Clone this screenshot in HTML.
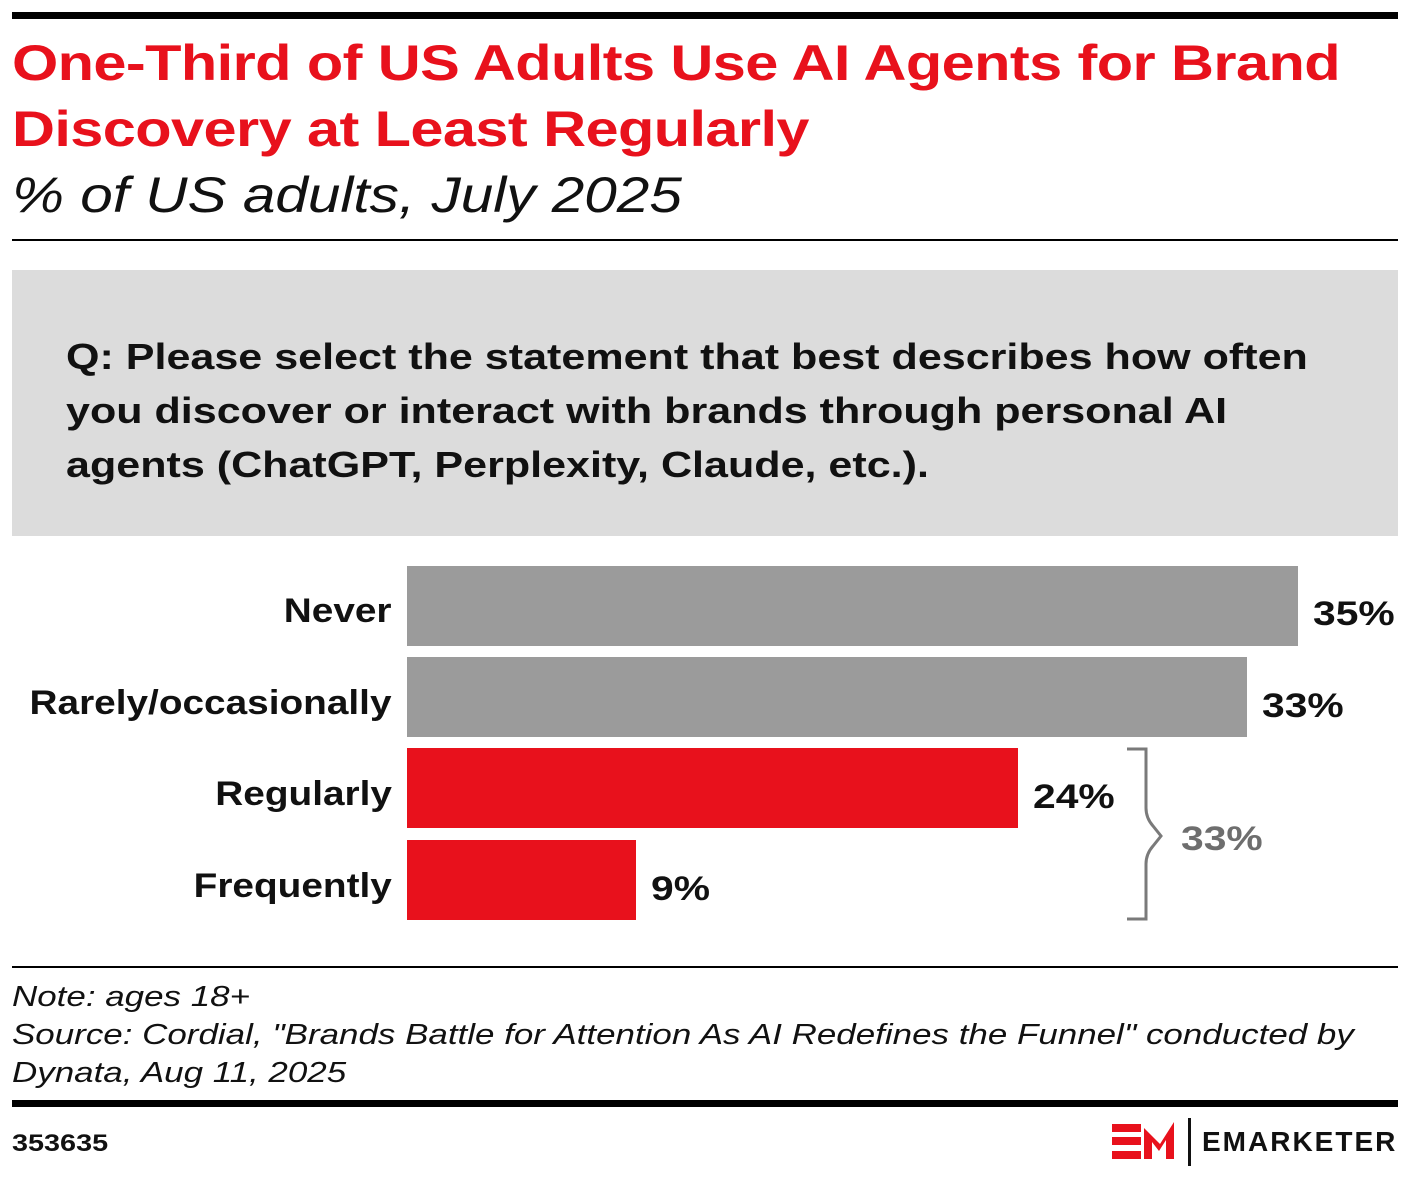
<!DOCTYPE html>
<html><head><meta charset="utf-8"><style>
body{margin:0;width:1410px;height:1177px;background:#fff;position:relative;font-family:"Liberation Sans",sans-serif;overflow:hidden}
.a{position:absolute;white-space:nowrap}
.sx{transform-origin:0 0}
.t{color:#e8111c;font-weight:bold;font-size:50px;line-height:66px;left:12px;top:30px;letter-spacing:-0.5px;transform:scaleX(1.19)}
.s{font-style:italic;font-size:50px;left:12px;top:166px;color:#111;transform:scaleX(1.17)}
.lab{position:absolute;right:1018px;font-weight:bold;font-size:34px;color:#111;text-align:right;transform-origin:100% 0;transform:scaleX(1.14);white-space:nowrap}
.bar{position:absolute;left:407px;height:80px}
.v{position:absolute;font-weight:bold;font-size:34px;color:#111;transform-origin:0 0;transform:scaleX(1.2)}
.n{font-style:italic;font-size:29px;color:#111;left:12px;line-height:38px;transform:scaleX(1.205)}
</style></head><body>
<div class="a" style="left:12px;top:12px;width:1386px;height:7px;background:#000"></div>
<div class="a sx t">One-Third of US Adults Use AI Agents for Brand<br>Discovery at Least Regularly</div>
<div class="a sx s">% of US adults, July 2025</div>
<div class="a" style="left:12px;top:239px;width:1386px;height:2px;background:#000"></div>
<div class="a" style="left:12px;top:270px;width:1386px;height:266px;background:#dcdcdc"></div>
<div class="a sx" style="left:66px;top:330px;font-weight:bold;font-size:36px;line-height:54px;color:#111;transform:scaleX(1.196)">Q: Please select the statement that best describes how often<br>you discover or interact with brands through personal AI<br>agents (ChatGPT, Perplexity, Claude, etc.).</div>
<div class="lab" style="top:592px">Never</div>
<div class="lab" style="top:684px">Rarely/occasionally</div>
<div class="lab" style="top:775px">Regularly</div>
<div class="lab" style="top:867px">Frequently</div>
<div class="bar" style="top:566px;width:891px;background:#9b9b9b"></div>
<div class="bar" style="top:657px;width:840px;background:#9b9b9b"></div>
<div class="bar" style="top:748px;width:611px;background:#e8111c"></div>
<div class="bar" style="top:840px;width:229px;background:#e8111c"></div>
<div class="v" style="left:1313px;top:595px">35%</div>
<div class="v" style="left:1262px;top:687px">33%</div>
<div class="v" style="left:1033px;top:778px">24%</div>
<div class="v" style="left:651px;top:870px">9%</div>
<svg class="a" style="left:0;top:0" width="1410" height="1177"><path d="M1127 749H1146V808Q1146 818 1153 826L1161 836L1153 846Q1146 854 1146 864V919H1127" fill="none" stroke="#7a7a7a" stroke-width="3"/></svg>
<div class="v" style="left:1181px;top:820px;color:#6e6e6e">33%</div>
<div class="a" style="left:12px;top:966px;width:1386px;height:2px;background:#000"></div>
<div class="a sx n" style="top:978px">Note: ages 18+<br>Source: Cordial, "Brands Battle for Attention As AI Redefines the Funnel" conducted by<br>Dynata, Aug 11, 2025</div>
<div class="a" style="left:12px;top:1100px;width:1386px;height:7px;background:#000"></div>
<div class="a sx" style="left:12px;top:1130px;font-weight:bold;font-size:24px;color:#111;transform:scaleX(1.2)">353635</div>
<svg class="a" style="left:1110px;top:1120px" width="70" height="45"><g fill="#e8111c"><rect x="2" y="4" width="29" height="8"/><rect x="2" y="17" width="29" height="8"/><rect x="2" y="31" width="29" height="8"/><path d="M34 39V8L50 24L64 2V39H56V20L49 31L42 22V39Z"/></g></svg>
<div class="a" style="left:1188px;top:1118px;width:3px;height:48px;background:#111"></div>
<div class="a" style="left:1202px;top:1126px;font-weight:bold;font-size:28px;letter-spacing:2px;color:#111">EMARKETER</div>
</body></html>
